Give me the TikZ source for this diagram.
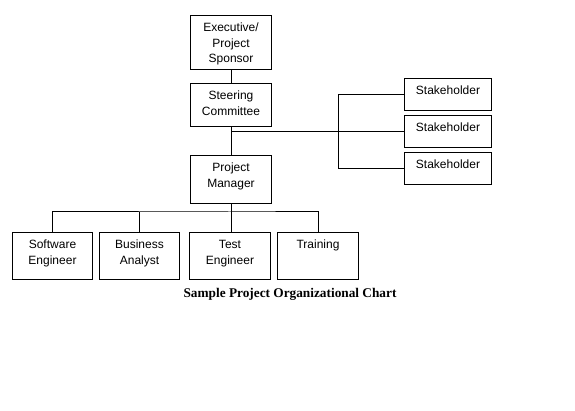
\documentclass[tikz,border=0pt]{standalone}
\usepackage{fontspec}
\setmainfont{Liberation Sans}
\newfontfamily\capfont{Liberation Serif}
\newcommand{\bxt}[3]{\parbox[c][#2][t]{#1}{\centering\fontsize{12}{15.5}\selectfont\rule{0pt}{16.5pt}#3\par}}
\begin{document}
\begin{tikzpicture}[x=1pt,y=-1pt,
  box/.style={draw,line width=1pt,inner sep=0pt,anchor=north west},
  conn/.style={line width=1pt}]
\fill[white] (0,0) rectangle (575,411);
\useasboundingbox (0,0) rectangle (575,411);
\node[box] (ex) at (190,15) {\bxt{81pt}{54pt}{Executive/\\Project\\Sponsor}};
\node[box] (sc) at (190,83) {\bxt{81pt}{43pt}{Steering\\Committee}};
\node[box] (pm) at (190,155) {\bxt{81pt}{48pt}{Project\\Manager}};
\node[box] (s1) at (404,78) {\bxt{87pt}{32pt}{Stakeholder}};
\node[box] (s2) at (404,115) {\bxt{87pt}{32pt}{Stakeholder}};
\node[box] (s3) at (404,152) {\bxt{87pt}{32pt}{Stakeholder}};
\node[box] (se) at (12,232) {\bxt{80pt}{47pt}{Software\\Engineer}};
\node[box] (ba) at (99,232) {\bxt{80pt}{47pt}{Business\\Analyst}};
\node[box] (te) at (189,232) {\bxt{81pt}{47pt}{Test\\Engineer}};
\node[box] (tr) at (277,232) {\bxt{81pt}{47pt}{Training}};
\coordinate (j1) at (sc.south |- s2.west);
\coordinate (bus) at (230,212);
\draw[conn] (ex.south) -- (sc.north);
\draw[conn] (sc.south) -- (pm.north);
\draw[conn] (j1) -- (s2.west);
\draw[conn] (s1.west) -- ++(-66,0) |- (s3.west);
\draw[conn] (pm.south) -- (pm.south |- te.north);
\draw[conn] (se.north) |- (bus) -| (tr.north);
\draw[conn] (ba.north) -- (ba.north |- bus);
\node (cap) at (290,294) {\capfont\bfseries\fontsize{13.3}{16}\selectfont Sample Project Organizational Chart};
\end{tikzpicture}
\end{document}
